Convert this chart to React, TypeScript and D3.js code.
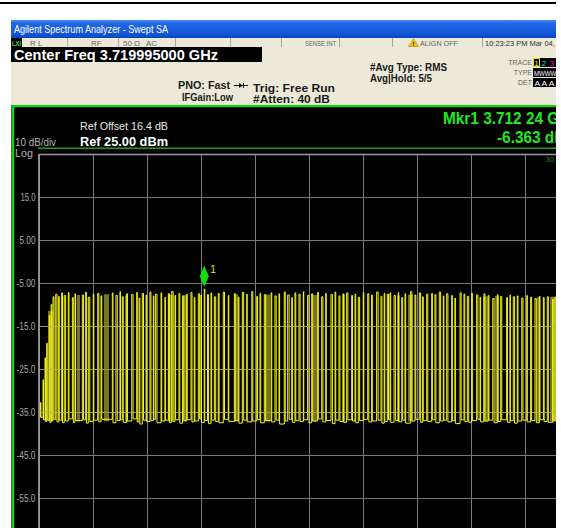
import React from 'react';
import * as d3 from 'd3';

// ---- Instrument settings ----
const centerFreqLabel = 'Center Freq 3.719995000 GHz';
const spanMHz = 40; // 4 MHz/div, 10 div
const refLevel = 25; // dBm
const dbPerDiv = 10;
const divisionsY = 10;
const divisionsX = 10;

const yTickValues = [15, 5, -5, -15, -25, -35, -45, -55];
const yTickLabels = ['15.0', '5.00', '-5.00', '-15.0', '-25.0', '-35.0', '-45.0', '-55.0'];

// marker (offset from start frequency 3.699995 GHz, in MHz)
const markerFreq = 12.245;
const markerLevel = -6.363;

// ---- Trace: pulses seen on the trace (MHz offset from start freq) ----
const pulseFreq = [
  0.11, 0.30, 0.45, 0.57, 0.76, 0.90, 1.04, 1.24, 1.46, 1.68,
  1.87, 2.17, 2.47, 2.67, 3.21, 3.46, 3.65, 4.02, 4.35, 4.59,
  5.43, 5.70, 6.00, 6.17, 6.50, 6.87, 7.24, 7.41, 7.65, 7.93,
  8.22, 8.47, 8.64, 9.04, 9.33, 9.58, 9.83, 10.07, 10.37, 10.64,
  10.94, 11.26, 11.50, 11.80, 12.00, 12.24, 12.48, 12.74, 12.99, 13.28,
  13.65, 14.02, 14.47, 14.76, 15.06, 15.39, 15.76, 16.13, 16.37, 16.69,
  17.19, 17.48, 17.78, 18.17, 18.42, 18.72, 18.96, 19.26, 19.58, 19.90,
  20.20, 20.64, 20.94, 21.24, 21.63, 21.93, 22.22, 22.54, 22.79, 23.16,
  23.41, 23.65, 24.02, 24.35, 24.64, 25.01, 25.33, 25.57, 25.80, 26.00,
  26.30, 26.61, 26.87, 27.11, 27.53, 27.85, 28.17, 28.42, 28.72, 29.09,
  29.33, 29.65, 29.95, 30.20, 30.57, 30.81, 31.19, 31.48, 31.73, 32.05,
  32.42, 32.67, 32.96, 33.28, 33.61, 33.95, 34.20, 34.64, 34.89, 35.13,
  35.43, 35.76, 36.13, 36.42, 36.74, 37.06, 37.36, 37.65, 38.05, 38.22,
  38.55, 38.90, 39.20, 39.55, 39.85,
];
const pulseTop = [
  -32.8, -27.5, -22.4, -19.0, -12.5, -10.0, -8.2, -7.6, -8.1, -7.3,
  -7.9, -7.2, -8.4, -7.5, -7.8, -7.1, -8.3, -7.6, -7.4, -8.0,
  -7.3, -7.9, -7.0, -8.2, -7.5, -7.7, -7.2, -8.5, -7.4, -7.8,
  -7.1, -8.0, -7.6, -7.3, -8.3, -7.5, -7.0, -7.9, -7.4, -8.1,
  -7.6, -7.2, -8.4, -7.5, -7.8, -6.4, -7.7, -7.3, -8.2, -7.4,
  -7.1, -7.9, -7.5, -8.3, -7.2, -7.6, -7.0, -8.1, -7.4, -7.7,
  -7.3, -8.0, -7.5, -7.1, -7.8, -8.4, -7.3, -7.6, -7.0, -7.9,
  -7.5, -7.2, -8.2, -7.4, -7.7, -7.1, -8.0, -7.5, -7.3, -7.9,
  -7.6, -8.3, -7.2, -7.5, -7.8, -7.1, -8.1, -7.4, -7.6, -7.3,
  -7.9, -7.2, -8.4, -7.5, -7.0, -7.8, -7.3, -8.2, -7.6, -7.4,
  -7.7, -7.1, -8.0, -7.5, -7.9, -8.5, -7.3, -7.6, -8.1, -7.4,
  -7.8, -8.3, -7.5, -7.9, -8.6, -7.7, -8.1, -8.4, -7.8, -8.2,
  -8.0, -8.5, -7.9, -8.3, -8.6, -8.1, -8.4, -8.2, -8.7, -8.3,
  -8.5, -8.2, -8.6, -8.4, -8.8,
];
const pulseWidth = [
  0.03, 0.03, 0.03, 0.04, 0.05, 0.05, 0.07, 0.09, 0.04, 0.06,
  0.10, 0.05, 0.07, 0.03, 0.09, 0.05, 0.11, 0.04, 0.08, 0.06,
  0.05, 0.10, 0.03, 0.07, 0.05, 0.10, 0.04, 0.06, 0.09, 0.05,
  0.07, 0.04, 0.10, 0.05, 0.03, 0.08, 0.11, 0.05, 0.06, 0.09,
  0.04, 0.07, 0.05, 0.10, 0.03, 0.04, 0.08, 0.05, 0.10, 0.06,
  0.09, 0.04, 0.07, 0.05, 0.10, 0.03, 0.08, 0.06, 0.05, 0.10,
  0.05, 0.09, 0.04, 0.07, 0.11, 0.05, 0.06, 0.08, 0.03, 0.10,
  0.07, 0.05, 0.09, 0.04, 0.10, 0.05, 0.07, 0.03, 0.09, 0.06,
  0.05, 0.10, 0.04, 0.08, 0.05, 0.11, 0.07, 0.04, 0.09, 0.05,
  0.10, 0.03, 0.07, 0.05, 0.09, 0.06, 0.10, 0.04, 0.08, 0.05,
  0.07, 0.10, 0.04, 0.09, 0.05, 0.03, 0.08, 0.06, 0.10, 0.05,
  0.09, 0.04, 0.07, 0.05, 0.10, 0.05, 0.08, 0.06, 0.03, 0.10,
  0.05, 0.09, 0.04, 0.07, 0.10, 0.05, 0.06, 0.08, 0.04, 0.09,
  0.05, 0.07, 0.04, 0.09, 0.06,
];
const floorLevel = [
  -36.2, -36.8, -37.2, -36.9, -37.4, -37.0, -36.7, -37.3, -36.9, -37.5,
  -37.1, -36.6, -37.4, -37.0, -36.8, -37.6, -37.2, -36.9, -37.3, -36.7,
  -37.5, -37.0, -36.8, -37.4, -37.1, -36.6, -37.3, -37.8, -36.9, -37.2,
  -37.0, -36.7, -37.5, -37.1, -36.9, -37.4, -37.2, -36.8, -37.6, -37.0,
  -36.8, -37.3, -37.1, -36.6, -37.4, -37.0, -37.7, -36.9, -37.2, -37.5,
  -36.7, -37.2, -37.0, -37.6, -36.9, -37.3, -37.1, -36.8, -37.5, -37.0,
  -37.3, -36.9, -37.8, -37.1, -36.7, -37.4, -37.0, -37.2, -36.8, -37.5,
  -37.1, -36.6, -37.3, -37.0, -37.7, -36.9, -37.2, -37.4, -36.8, -37.1,
  -37.5, -37.0, -36.7, -37.3, -37.1, -36.9, -37.6, -37.2, -36.8, -37.4,
  -37.0, -37.3, -36.9, -37.6, -37.1, -36.7, -37.4, -37.0, -37.2, -36.8,
  -37.5, -37.1, -36.9, -37.3, -37.0, -37.7, -36.8, -37.2, -37.4, -37.0,
  -36.7, -37.3, -37.1, -36.9, -37.5, -37.2, -36.8, -37.4, -37.0, -37.6,
  -37.1, -36.9, -37.3, -37.0, -37.5, -36.8, -37.2, -37.4, -37.0, -37.3,
  -37.1, -36.9, -37.4, -37.2, -37.0,
];
// dim (overdrawn) columns of the trace
const dimStart = [0.67, 2.79, 4.81, 6.37, 9.56, 10.59, 14.52, 16.74, 20.30, 22.44, 26.52, 27.33, 32.89, 33.78, 36.89, 37.85];
const dimEnd = [1.04, 3.04, 5.19, 6.59, 9.93, 10.96, 14.74, 17.11, 20.59, 22.67, 26.74, 27.70, 33.26, 34.07, 37.11, 38.30];
const dimTop = [-11.5, -7.8, -7.6, -7.9, -7.7, -7.8, -7.6, -7.7, -7.8, -7.6, -7.9, -7.7, -8.1, -8.0, -8.3, -8.2];

const NARROW = "'Liberation Sans Narrow','Arial Narrow','Liberation Sans',Arial,sans-serif";
const SANS = "'Liberation Sans',Arial,sans-serif";

const labelWidths: Record<string, number> = { '15.0': 15, '5.00': 16, '-5.00': 19, '-15.0': 19, '-25.0': 19, '-35.0': 19, '-45.0': 19, '-55.0': 19 };

export default function App() {
  const plotLeft = 39;
  const plotTop = 154;
  const divW = 54;
  const divH = 43;
  const x = d3.scaleLinear().domain([0, spanMHz]).range([plotLeft, plotLeft + divW * divisionsX]);
  const y = d3
    .scaleLinear()
    .domain([refLevel - dbPerDiv * divisionsY, refLevel])
    .range([plotTop + divH * divisionsY, plotTop]);

  const pts: [number, number][] = [[0, floorLevel[0]]];
  pulseFreq.forEach((f, i) => {
    const prevFloor = i === 0 ? floorLevel[0] : floorLevel[i - 1];
    pts.push([f, prevFloor]);
    pts.push([f, pulseTop[i]]);
    pts.push([f + pulseWidth[i], pulseTop[i]]);
    pts.push([f + pulseWidth[i], floorLevel[i]]);
  });
  pts.push([spanMHz, floorLevel[floorLevel.length - 1]]);
  const line = d3
    .line<[number, number]>()
    .x((d) => x(d[0]))
    .y((d) => y(d[1]));
  const tracePath = line(pts) || '';

  const vLines = d3.range(0, divisionsX + 1).map((i) => x((spanMHz / divisionsX) * i));
  const hLines = d3.range(0, divisionsY + 1).map((i) => y(refLevel - dbPerDiv * i));

  const mx = x(markerFreq);
  const my = y(markerLevel);

  const winR = 556;
  const sepX = [67, 118, 175, 230, 281, 339, 392, 482];

  return (
    <svg
      width={561}
      height={528}
      viewBox="0 0 561 528"
      style={{ position: 'absolute', left: 0, top: 0, display: 'block', background: '#fff' }}
    >
      <defs>
        <linearGradient id="tb" x1="0" y1="0" x2="0" y2="1">
          <stop offset="0" stopColor="#4a8cf4" />
          <stop offset="0.18" stopColor="#2166e4" />
          <stop offset="0.8" stopColor="#0f55d6" />
          <stop offset="1" stopColor="#0a46bc" />
        </linearGradient>
        <clipPath id="win">
          <rect x={0} y={0} width={winR} height={528} />
        </clipPath>
        <clipPath id="plot">
          <rect x={plotLeft} y={plotTop} width={winR - plotLeft} height={528 - plotTop} />
        </clipPath>
      </defs>
      <rect x={0} y={0} width={561} height={528} fill="#fff" />
      <rect x={0} y={2} width={winR} height={2} fill="#000" />

      <g clipPath="url(#win)">
        {/* title bar */}
        <rect x={11} y={20} width={winR - 11} height={18} fill="url(#tb)" />
        <text x={14} y={33} fill="#fff" fontFamily={SANS} fontSize={11} textLength={154} lengthAdjust="spacingAndGlyphs">
          Agilent Spectrum Analyzer - Swept SA
        </text>

        {/* status row */}
        <rect x={11} y={38} width={winR - 11} height={9} fill="#ece9d8" />
        <rect x={11} y={38} width={11} height={9} fill="#000" />
        <text x={12} y={45.5} fill="#3dd03d" fontFamily={SANS} fontWeight="bold" fontSize={7.5} textLength={9} lengthAdjust="spacingAndGlyphs">LXI</text>
        {sepX.map((sx) => (
          <line key={sx} x1={sx + 0.5} x2={sx + 0.5} y1={38} y2={47} stroke="#a8a89a" strokeWidth={1} />
        ))}
        <g fill="#666" fontFamily={NARROW} fontSize={8}>
          <text x={30} y={45.5}>R L</text>
          <text x={91} y={45.5}>RF</text>
          <text x={123} y={45.5}>50 Ω</text>
          <text x={146} y={45.5}>AC</text>
          <text x={305} y={45.5} textLength={31} lengthAdjust="spacingAndGlyphs">SENSE:INT</text>
          <text x={420} y={45.5} textLength={38} lengthAdjust="spacingAndGlyphs">ALIGN OFF</text>
        </g>
        <path d="M413.5,38.8 L418.5,46.5 L408.5,46.5 Z" fill="#f2c800" stroke="#9a7a00" strokeWidth={0.5} />
        <text x={413.5} y={46} textAnchor="middle" fill="#000" fontFamily={SANS} fontWeight="bold" fontSize={6}>!</text>
        <text x={485} y={45.5} fill="#333" fontFamily={NARROW} fontSize={8} textLength={88} lengthAdjust="spacingAndGlyphs">10:23:23 PM Mar 04, 2011</text>

        {/* info panel */}
        <rect x={11} y={47} width={winR - 11} height={58} fill="#ece9d8" />
        <rect x={11} y={47} width={251} height={15} fill="#000" />
        <text x={14} y={59.5} fill="#fff" fontFamily={SANS} fontWeight="bold" fontSize={14.5} textLength={204} lengthAdjust="spacingAndGlyphs">
          {centerFreqLabel}
        </text>
        <g fill="#1a1a1a" fontFamily={NARROW} fontWeight="bold" fontSize={10}>
          <text x={178} y={89} textLength={52} lengthAdjust="spacingAndGlyphs">PNO: Fast</text>
          <text x={182} y={101} textLength={51} lengthAdjust="spacingAndGlyphs">IFGain:Low</text>
          <text x={253} y={92} textLength={82} lengthAdjust="spacingAndGlyphs">Trig: Free Run</text>
          <text x={253} y={103} textLength={77} lengthAdjust="spacingAndGlyphs">#Atten: 40 dB</text>
          <text x={370} y={71} textLength={77} lengthAdjust="spacingAndGlyphs">#Avg Type: RMS</text>
          <text x={370} y={82} textLength={62} lengthAdjust="spacingAndGlyphs">Avg|Hold: 5/5</text>
        </g>
        {/* trigger arrow glyph */}
        <line x1={234} x2={248} y1={85.5} y2={85.5} stroke="#1a1a1a" strokeWidth={1} />
        <path d="M239,83 L243,85.5 L239,88 Z" fill="#1a1a1a" />
        <line x1={243.5} x2={243.5} y1={83} y2={88} stroke="#1a1a1a" strokeWidth={1} />

        {/* trace info block */}
        <g fill="#666" fontFamily={NARROW} fontSize={7} textAnchor="end">
          <text x={532} y={65}>TRACE</text>
          <text x={532} y={75}>TYPE</text>
          <text x={532} y={85}>DET</text>
        </g>
        <rect x={533} y={58} width={23} height={9} fill="#000" />
        <rect x={533} y={68} width={23} height={9} fill="#000" />
        <rect x={533} y={78} width={23} height={9} fill="#000" />
        <rect x={533.5} y={58.5} width={6} height={8} fill="none" stroke="#e6e600" strokeWidth={1} />
        <g fontFamily={SANS} fontSize={8}>
          <text x={536.5} y={65.5} textAnchor="middle" fill="#f0f000">1</text>
          <text x={544} y={65.5} textAnchor="middle" fill="#20d8e0">2</text>
          <text x={552} y={65.5} textAnchor="middle" fill="#e020e0">3</text>
          <text x={534} y={75.5} fill="#fff" textLength={28} lengthAdjust="spacingAndGlyphs">MWWWW</text>
          <text x={534.5} y={85.5} fill="#fff" textLength={27} lengthAdjust="spacingAndGlyphs">A A A A</text>
        </g>

        {/* screen */}
        <rect x={11} y={105} width={winR - 11} height={528 - 105} fill="#000" />
        <rect x={11} y={105} width={1} height={528 - 105} fill="#5a5a5a" />
        <rect x={12} y={105} width={winR - 12} height={2.2} fill="#00e000" />
        <rect x={12} y={105} width={2.2} height={528 - 105} fill="#00e000" />

        <text x={80} y={130} fill="#e8e8e8" fontFamily={SANS} fontSize={11} textLength={88} lengthAdjust="spacingAndGlyphs">Ref Offset 16.4 dB</text>
        <text x={80} y={146} fill="#ffffff" fontFamily={SANS} fontWeight="bold" fontSize={13} textLength={88} lengthAdjust="spacingAndGlyphs">Ref 25.00 dBm</text>
        <text x={15} y={146} fill="#b4b4b4" fontFamily={SANS} fontSize={11} textLength={41} lengthAdjust="spacingAndGlyphs">10 dB/div</text>
        <text x={15} y={157} fill="#b4b4b4" fontFamily={SANS} fontSize={11} textLength={18} lengthAdjust="spacingAndGlyphs">Log</text>
        <rect x={38} y={147.5} width={winR - 38} height={1.6} fill="#2a962a" />

        <text x={443} y={124} fill="#22e822" fontFamily={SANS} fontWeight="bold" fontSize={17} textLength={135} lengthAdjust="spacingAndGlyphs">Mkr1 3.712 24 GHz</text>
        <text x={497} y={143} fill="#22e822" fontFamily={SANS} fontWeight="bold" fontSize={17} textLength={82} lengthAdjust="spacingAndGlyphs">-6.363 dBm</text>

        {/* grid */}
        <g clipPath="url(#plot)">
          {vLines.map((vx, i) => (
            <line key={'v' + i} x1={vx + 0.5} x2={vx + 0.5} y1={plotTop} y2={plotTop + divH * divisionsY} stroke="#7a7a7a" strokeWidth={1} />
          ))}
          {hLines.map((hy, i) => (
            <line key={'h' + i} x1={plotLeft} x2={plotLeft + divW * divisionsX} y1={hy + 0.5} y2={hy + 0.5} stroke="#7a7a7a" strokeWidth={1} />
          ))}
          {/* trace dim columns */}
          {dimStart.map((s, i) => (
            <rect
              key={'d' + i}
              x={x(s)}
              y={y(dimTop[i])}
              width={x(dimEnd[i]) - x(s)}
              height={y(-37.2) - y(dimTop[i])}
              fill="#8a8a2a"
              opacity={0.85}
            />
          ))}
          <path d={tracePath} fill="none" stroke="#f6f61e" strokeWidth={1} strokeLinejoin="miter" />
          {/* grid tint over trace area */}
          {hLines.map((hy, i) =>
            hy > y(-8) && hy < y(-37) ? (
              <line key={'ht' + i} x1={plotLeft} x2={plotLeft + divW * divisionsX} y1={hy + 0.5} y2={hy + 0.5} stroke="#a8a860" strokeWidth={1} opacity={0.55} />
            ) : null
          )}
          <text x={546} y={162} fill="#2a8a2a" fontFamily={SANS} fontSize={7}>30.0</text>
        </g>
        <line x1={plotLeft} x2={winR} y1={plotTop + 0.5} y2={plotTop + 0.5} stroke="#9a9a9a" strokeWidth={1.6} />
        <line x1={plotLeft} x2={plotLeft} y1={plotTop} y2={528} stroke="#9a9a9a" strokeWidth={1.8} />

        {/* y tick labels */}
        {yTickValues.map((v, i) => (
          <text
            key={'yl' + i}
            x={35.5}
            y={y(v) + 3.5}
            textAnchor="end"
            fill="#a8a8a8"
            fontFamily={NARROW}
            fontSize={10}
            textLength={labelWidths[yTickLabels[i]]}
            lengthAdjust="spacingAndGlyphs"
          >
            {yTickLabels[i]}
          </text>
        ))}

        {/* marker */}
        <path d={`M${mx},${my - 23} L${mx + 4.5},${my - 12.5} L${mx},${my - 2} L${mx - 4.5},${my - 12.5} Z`} fill="#10e010" />
        <text x={mx + 6} y={my - 16} fill="#e4e430" fontFamily={SANS} fontSize={10}>1</text>
      </g>
    </svg>
  );
}
